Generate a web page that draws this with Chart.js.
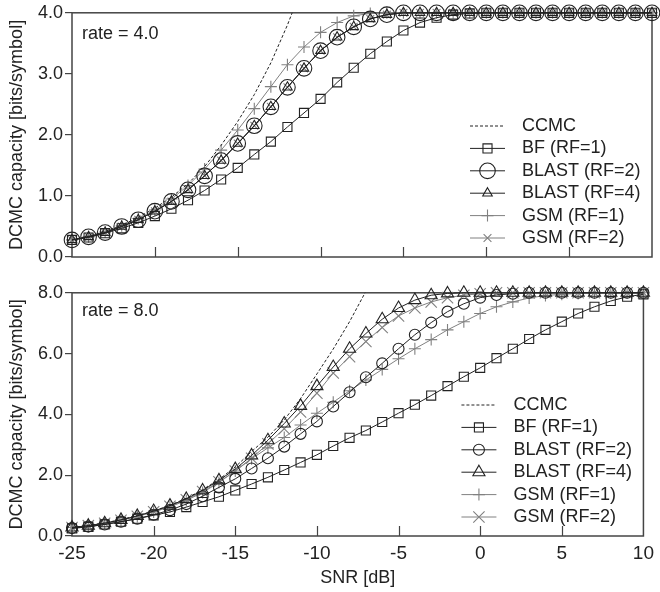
<!DOCTYPE html>
<html>
<head>
<meta charset="utf-8">
<script src="https://cdn.jsdelivr.net/npm/chart.js@4/dist/chart.umd.min.js"></script>
<style>
  html, body { margin: 0; padding: 0; background: #fff; }
  canvas { display: block; }
</style>
</head>
<body>
<canvas id="topChart" width="660" height="280"></canvas>
<canvas id="bottomChart" width="660" height="312"></canvas>
<script>
// SNR axis [dB]
const snr = [-25, -24, -23, -22, -21, -20, -19, -18, -17, -16, -15, -14, -13, -12, -11, -10,
  -9, -8, -7, -6, -5, -4, -3, -2, -1, 0, 1, 2, 3, 4, 5, 6, 7, 8, 9, 10];
const xTickMarks = [-20, -15, -10, -5, 0, 5];

const seriesNames = ['CCMC', 'BF (RF=1)', 'BLAST (RF=2)', 'BLAST (RF=4)', 'GSM (RF=1)', 'GSM (RF=2)'];

// rate = 4.0
const ccmc4 = [0.28, 0.34, 0.42, 0.52, 0.65, 0.80, 0.98, 1.20, 1.48, 1.83, 2.22, 2.66, 3.18, 3.80, 4.50];
const bf4 = [0.28, 0.32, 0.39, 0.47, 0.56, 0.67, 0.79, 0.93, 1.09, 1.27, 1.46, 1.68, 1.89, 2.13, 2.36, 2.59,
  2.86, 3.10, 3.33, 3.53, 3.71, 3.84, 3.92, 3.97, 3.99, 4.0, 4.0, 4.0, 4.0, 4.0, 4.0, 4.0, 4.0, 4.0, 4.0, 4.0];
const blast2_4 = [0.28, 0.33, 0.40, 0.50, 0.61, 0.75, 0.91, 1.10, 1.33, 1.58, 1.86, 2.15, 2.46, 2.78, 3.09, 3.38,
  3.60, 3.77, 3.90, 3.97, 4.0, 4.0, 4.0, 4.0, 4.0, 4.0, 4.0, 4.0, 4.0, 4.0, 4.0, 4.0, 4.0, 4.0, 4.0, 4.0];
const blast4_4 = [0.28, 0.33, 0.40, 0.50, 0.61, 0.75, 0.91, 1.10, 1.33, 1.58, 1.86, 2.15, 2.46, 2.78, 3.09, 3.38,
  3.60, 3.77, 3.90, 3.97, 4.0, 4.0, 4.0, 4.0, 4.0, 4.0, 4.0, 4.0, 4.0, 4.0, 4.0, 4.0, 4.0, 4.0, 4.0, 4.0];
const gsm1_4 = [0.28, 0.33, 0.41, 0.51, 0.63, 0.77, 0.95, 1.17, 1.44, 1.75, 2.08, 2.43, 2.79, 3.15, 3.44, 3.68,
  3.84, 3.95, 3.99, 4.0, 4.0, 4.0, 4.0, 4.0, 4.0, 4.0, 4.0, 4.0, 4.0, 4.0, 4.0, 4.0, 4.0, 4.0, 4.0, 4.0];
const gsm2_4 = [0.28, 0.33, 0.40, 0.50, 0.61, 0.75, 0.91, 1.10, 1.33, 1.58, 1.86, 2.15, 2.46, 2.78, 3.09, 3.38,
  3.60, 3.77, 3.90, 3.97, 4.0, 4.0, 4.0, 4.0, 4.0, 4.0, 4.0, 4.0, 4.0, 4.0, 4.0, 4.0, 4.0, 4.0, 4.0, 4.0];

// rate = 8.0
const ccmc8 = [0.28, 0.35, 0.43, 0.54, 0.67, 0.82, 1.01, 1.24, 1.52, 1.86, 2.27, 2.78, 3.25, 3.82, 4.52, 5.33,
  6.15, 7.05, 8.05, 9.10];
const bf8 = [0.25, 0.30, 0.38, 0.47, 0.57, 0.68, 0.79, 0.95, 1.12, 1.29, 1.50, 1.71, 1.93, 2.17, 2.42, 2.67,
  2.96, 3.23, 3.47, 3.75, 4.04, 4.32, 4.62, 4.93, 5.24, 5.53, 5.85, 6.16, 6.48, 6.78, 7.05, 7.32, 7.54, 7.73, 7.87, 7.95];
const blast2_8 = [0.26, 0.31, 0.38, 0.47, 0.57, 0.70, 0.85, 1.05, 1.31, 1.60, 1.88, 2.22, 2.56, 2.94, 3.36, 3.77,
  4.26, 4.73, 5.22, 5.68, 6.16, 6.62, 7.02, 7.38, 7.64, 7.84, 7.93, 7.97, 8.0, 8.0, 8.0, 8.0, 8.0, 8.0, 8.0, 8.0];
const blast4_8 = [0.28, 0.34, 0.42, 0.53, 0.66, 0.82, 1.00, 1.22, 1.50, 1.83, 2.20, 2.65, 3.15, 3.70, 4.28, 4.93,
  5.56, 6.16, 6.66, 7.13, 7.50, 7.76, 7.92, 7.98, 8.0, 8.0, 8.0, 8.0, 8.0, 8.0, 8.0, 8.0, 8.0, 8.0, 8.0, 8.0];
const gsm1_8 = [0.28, 0.34, 0.42, 0.52, 0.64, 0.79, 0.96, 1.17, 1.43, 1.76, 2.14, 2.54, 2.90, 3.24, 3.65, 4.04,
  4.40, 4.78, 5.13, 5.48, 5.83, 6.16, 6.46, 6.78, 7.05, 7.32, 7.54, 7.70, 7.83, 7.91, 7.95, 7.98, 8.0, 8.0, 8.0, 8.0];
const gsm2_8 = [0.28, 0.34, 0.42, 0.52, 0.65, 0.80, 0.98, 1.19, 1.46, 1.78, 2.14, 2.56, 3.03, 3.53, 4.08, 4.70,
  5.36, 5.90, 6.40, 6.86, 7.24, 7.50, 7.70, 7.84, 7.92, 7.97, 8.0, 8.0, 8.0, 8.0, 8.0, 8.0, 8.0, 8.0, 8.0, 8.0];

const FONT = "'Liberation Sans', Arial, sans-serif";
const DARK = '#222222';
const GRAY = '#808080';
const AXIS = '#444444';

const styles = [
  { color: DARK, marker: false, dash: [3, 2] },
  { color: DARK, marker: 'rect' },
  { color: DARK, marker: 'circle' },
  { color: DARK, marker: 'triangle' },
  { color: GRAY, marker: 'cross' },
  { color: GRAY, marker: 'crossRot' }
];

function toPoints(vals) {
  return vals.map((v, i) => ({ x: snr[i], y: v }));
}

function buildDatasets(seriesList, radii) {
  return seriesList.map((vals, i) => ({
    label: seriesNames[i],
    data: toPoints(vals),
    borderColor: styles[i].color,
    borderWidth: 1,
    borderDash: styles[i].dash || [],
    pointStyle: styles[i].marker,
    pointRadius: styles[i].marker ? radii[i] : 0,
    pointBorderColor: styles[i].color,
    pointBackgroundColor: 'rgba(0,0,0,0)',
    pointBorderWidth: 1.1,
    tension: 0,
    clip: styles[i].marker ? false : 0
  }));
}

function drawMarker(ctx, style, x, y, r) {
  ctx.beginPath();
  if (style === 'rect') {
    const s = r * Math.SQRT1_2;
    ctx.rect(x - s, y - s, 2 * s, 2 * s);
  } else if (style === 'circle') {
    ctx.arc(x, y, r, 0, Math.PI * 2);
  } else if (style === 'triangle') {
    ctx.moveTo(x, y - r);
    ctx.lineTo(x + r * Math.sin(2 * Math.PI / 3), y - r * Math.cos(2 * Math.PI / 3));
    ctx.lineTo(x + r * Math.sin(4 * Math.PI / 3), y - r * Math.cos(4 * Math.PI / 3));
    ctx.closePath();
  } else if (style === 'cross') {
    ctx.moveTo(x - r, y); ctx.lineTo(x + r, y);
    ctx.moveTo(x, y - r); ctx.lineTo(x, y + r);
  } else if (style === 'crossRot') {
    const s = r * Math.SQRT1_2;
    ctx.moveTo(x - s, y - s); ctx.lineTo(x + s, y + s);
    ctx.moveTo(x - s, y + s); ctx.lineTo(x + s, y - s);
  }
  ctx.stroke();
}

const panelPlugin = {
  id: 'panel',
  beforeDatasetsDraw(chart) {
    const { ctx, chartArea: a } = chart;
    const xs = chart.scales.x;
    ctx.save();
    ctx.strokeStyle = AXIS;
    ctx.lineWidth = 1.5;
    ctx.strokeRect(a.left, a.top, a.right - a.left, a.bottom - a.top);
    // inward x tick marks
    ctx.lineWidth = 1.2;
    ctx.beginPath();
    xTickMarks.forEach(v => {
      const px = Math.round(xs.getPixelForValue(v)) + 0.5;
      ctx.moveTo(px, a.bottom);
      ctx.lineTo(px, a.bottom - 10);
    });
    ctx.stroke();
    ctx.restore();
  },
  afterDraw(chart) {
    const { ctx, chartArea: a } = chart;
    const opts = chart.options.plugins.panel;
    ctx.save();
    ctx.fillStyle = DARK;
    ctx.font = '18px ' + FONT;
    ctx.textBaseline = 'middle';
    ctx.textAlign = 'left';
    ctx.fillText(opts.text, a.left + 10, a.top + opts.textDy);
    // legend
    chart.data.datasets.forEach((ds, i) => {
      const y = a.bottom - 19 - (chart.data.datasets.length - 1 - i) * 22.4;
      const x0 = a.right - 182, x1 = a.right - 147;
      ctx.strokeStyle = ds.borderColor;
      ctx.lineWidth = 1;
      ctx.setLineDash(ds.borderDash);
      ctx.beginPath();
      ctx.moveTo(x0, y); ctx.lineTo(x1, y);
      ctx.stroke();
      ctx.setLineDash([]);
      if (ds.pointStyle) {
        ctx.lineWidth = 1.1;
        drawMarker(ctx, ds.pointStyle, (x0 + x1) / 2, y, ds.pointRadius);
      }
      ctx.fillStyle = DARK;
      ctx.fillText(ds.label, a.right - 130, y);
    });
    ctx.restore();
  }
};

function makeChart(id, datasets, yMax, yStep, showX, text, textDy, topPad, xHeight) {
  return new Chart(document.getElementById(id), {
    type: 'line',
    data: { datasets },
    plugins: [panelPlugin],
    options: {
      responsive: false,
      animation: false,
      layout: { padding: { top: topPad, right: 8, left: 0, bottom: 0 }, autoPadding: false },
      plugins: {
        legend: { display: false },
        tooltip: { enabled: false },
        panel: { text, textDy }
      },
      scales: {
        x: {
          type: 'linear',
          min: -25, max: 10,
          grid: { display: false, drawTicks: false, tickLength: 0 },
          border: { display: false },
          ticks: {
            display: showX, stepSize: 5, padding: 6, color: DARK,
            font: { family: FONT, size: 19 },
            maxRotation: 0
          },
          title: {
            display: showX, text: 'SNR [dB]', color: DARK,
            font: { family: FONT, size: 18 },
            padding: { top: 0, bottom: 3 }
          },
          afterFit(s) { s.height = xHeight; }
        },
        y: {
          min: 0, max: yMax,
          grid: { drawOnChartArea: false, drawTicks: true, tickLength: 7, color: AXIS, lineWidth: 1.2 },
          border: { display: false },
          ticks: {
            stepSize: yStep, padding: 2, color: DARK,
            font: { family: FONT, size: 18 },
            callback: v => v.toFixed(1)
          },
          title: {
            display: true, text: 'DCMC capacity [bits/symbol]', color: DARK,
            font: { family: FONT, size: 18 },
            padding: { top: 6, bottom: 0 }
          },
          afterFit(s) { s.width = 72; }
        }
      }
    }
  });
}

makeChart('topChart',
  buildDatasets([ccmc4, bf4, blast2_4, blast4_4, gsm1_4, gsm2_4], [0, 6.4, 7.8, 5.5, 6, 5.5]),
  4, 1, false, 'rate = 4.0', 21, 12, 23);

makeChart('bottomChart',
  buildDatasets([ccmc8, bf8, blast2_8, blast4_8, gsm1_8, gsm2_8], [0, 6.4, 5.5, 7, 6, 8]),
  8, 2, true, 'rate = 8.0', 18, 10, 56);
</script>
</body>
</html>
